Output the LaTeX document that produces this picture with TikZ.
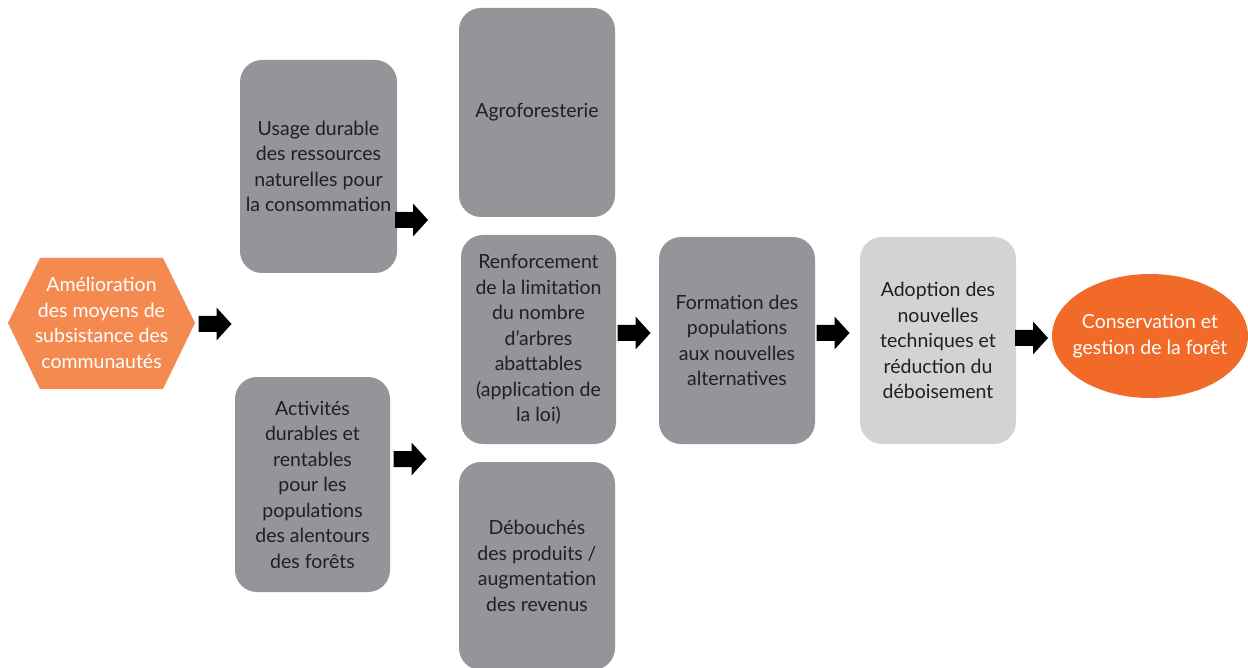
\documentclass[tikz,border=0pt]{standalone}
\usepackage{fontspec}
\setmainfont{Lato}
\usetikzlibrary{shapes.geometric}
\definecolor{boxgray}{HTML}{939598}
\definecolor{lightgray}{HTML}{D1D3D4}
\definecolor{hexorange}{HTML}{F58A50}
\definecolor{deeporange}{HTML}{F26A28}
\definecolor{inktext}{HTML}{231F20}
\tikzset{
  card/.style={rectangle, rounded corners=22pt, fill=boxgray, text=inktext,
    align=center, inner sep=0pt, font=\fontsize{19.5}{25.5}\selectfont},
  palecard/.style={card, fill=lightgray},
  whitetext/.style={text=white, align=center, font=\fontsize{19.5}{25.5}\selectfont},
  blockarrow/.pic={
    \fill[black] (-17,-8) -- (1,-8) -- (1,-16.5) -- (16,0) -- (1,16.5) -- (1,8) -- (-17,8) -- cycle;
  }
}
\begin{document}
\begin{tikzpicture}[x=1pt,y=-1pt]
\useasboundingbox[fill=white] (0,0) rectangle (1248,668);

% starting hexagon
\coordinate (hL) at (8,323);
\coordinate (hTL) at (40,258);
\coordinate (hTR) at (163,258);
\coordinate (hR) at (195,323);
\coordinate (hBR) at (163,389);
\coordinate (hBL) at (40,389);
\fill[hexorange] (hL) -- (hTL) -- (hTR) -- (hR) -- (hBR) -- (hBL) -- cycle;
\node[whitetext] (start) at (101.5,323) {Amélioration\\des moyens de\\subsistance des\\communautés};

% first column
\node[card, minimum width=157pt, minimum height=213pt] (usage) at (318.5,166.5)
  {Usage durable\\des ressources\\naturelles pour\\la consommation};
\node[card, minimum width=155pt, minimum height=215pt] (activ) at (312.5,484.5)
  {Activités\\durables et\\rentables\\pour les\\populations\\des alentours\\des forêts};

% second column
\node[card, minimum width=156pt, minimum height=209pt] (agro) at (537,112.5) {Agroforesterie};
\node[card, minimum width=155pt, minimum height=209pt] (renf) at (538.5,339.5)
  {Renforcement\\de la limitation\\du nombre\\d’arbres\\abattables\\(application de\\la loi)};
\node[card, minimum width=156pt, minimum height=208pt] (deb) at (537,566)
  {Débouchés\\des produits /\\augmentation\\des revenus};

% later steps
\node[card, minimum width=156pt, minimum height=207pt] (form) at (737,340.5)
  {Formation des\\populations\\aux nouvelles\\alternatives};
\node[palecard, minimum width=156pt, minimum height=207pt] (adopt) at (938,340.5)
  {Adoption des\\nouvelles\\techniques et\\réduction du\\déboisement};

% outcome: the oval, then its label on top
\node[ellipse, fill=deeporange, minimum width=196pt, minimum height=124pt, inner sep=0pt]
  (goal) at (1150,336) {};
\node[whitetext] (goaltext) at (goal.center) {Conservation et\\gestion de la forêt};

% block arrows
\pic (a1) at (215.5,324) {blockarrow};
\pic (a2) at (412,220) {blockarrow};
\pic (a3) at (410.5,459) {blockarrow};
\pic (a4) at (634.5,333) {blockarrow};
\pic (a5) at (833.5,333) {blockarrow};
\pic (a6) at (1032,338) {blockarrow};
\end{tikzpicture}
\end{document}
